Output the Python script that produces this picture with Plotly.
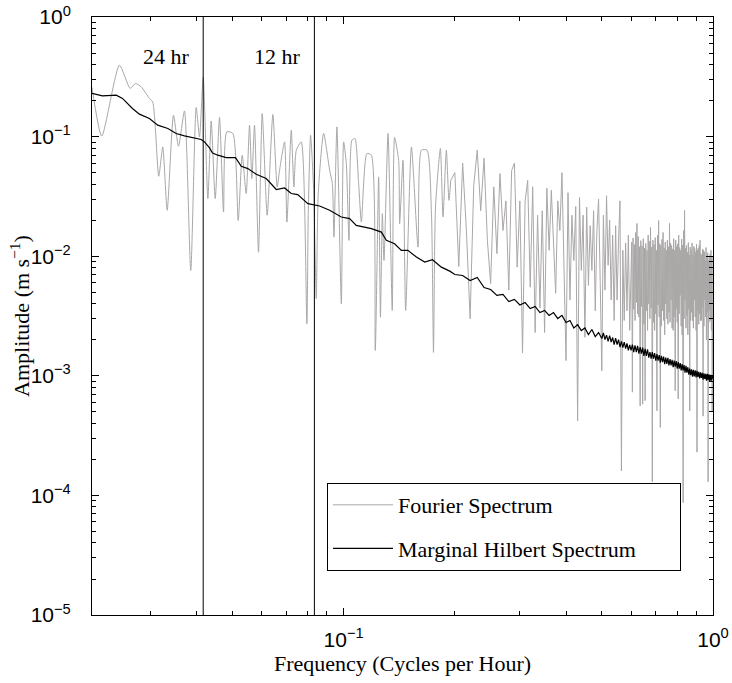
import math
import plotly.graph_objects as go

# ---------------- data ----------------
# Fourier spectrum, low-frequency part (individual lobes)
fourier_freq_low = [
    0.02083, 0.02214, 0.02472, 0.02643, 0.02731, 0.0283, 0.0298, 0.03042, 0.03158, 0.03238,
    0.03329, 0.03462, 0.03572, 0.03708, 0.03856, 0.03988, 0.04072, 0.04167, 0.0429, 0.0438,
    0.04491, 0.04613, 0.0473, 0.04827, 0.05014, 0.05182, 0.05314, 0.05448, 0.05562, 0.05643,
    0.05738, 0.05882, 0.0602, 0.06209, 0.06433, 0.06609, 0.06707, 0.0692, 0.0702, 0.07215,
    0.07335, 0.07445, 0.07679, 0.07952, 0.08021, 0.08138, 0.08292, 0.08432, 0.08537, 0.08828,
    0.09165, 0.09321, 0.09414, 0.0959, 0.09858, 0.1, 0.1017, 0.1034, 0.1053, 0.1073,
    0.1098, 0.1117, 0.1156, 0.1189, 0.1218, 0.1244, 0.1258, 0.1273, 0.1286, 0.1319,
    0.1354, 0.1374, 0.1409, 0.1418, 0.1448, 0.1472, 0.1526, 0.159, 0.1624, 0.1682,
    0.1729, 0.1751, 0.1773, 0.1828, 0.1858, 0.1897, 0.1928,
]
fourier_amp_low = [
    0.258, 0.101, 0.396, 0.253, 0.278, 0.261, 0.2085, 0.195, 0.0466, 0.082,
    0.0242, 0.151, 0.0831, 0.164, 0.0076, 0.175, 0.0994, 0.313, 0.0303, 0.135,
    0.0303, 0.1445, 0.0234, 0.1095, 0.1062, 0.0199, 0.0699, 0.0334, 0.1246, 0.0446,
    0.1246, 0.0108, 0.156, 0.022, 0.153, 0.0379, 0.0523, 0.0903, 0.0193, 0.113,
    0.0379, 0.0769, 0.0903, 0.00272, 0.0228, 0.1027, 0.0367, 0.00443, 0.0336, 0.1062,
    0.0523, 0.0405, 0.01445, 0.1206, 0.0040, 0.0903, 0.0595, 0.01356, 0.0933, 0.0964,
    0.0405, 0.0193, 0.0722, 0.0699, 0.00163, 0.046, 0.00309, 0.0227, 0.00922, 0.1062,
    0.00352, 0.0983, 0.0634, 0.0187, 0.0634, 0.00352, 0.082, 0.0119, 0.0769, 0.0769,
    0.0227, 0.00157, 0.0258, 0.0795, 0.0213, 0.0769, 0.0293,
]

# Fourier spectrum, middle part
fourier_freq_mid = [
    0.195, 0.200, 0.205, 0.210, 0.215, 0.220, 0.225, 0.230, 0.235, 0.240,
    0.245, 0.250, 0.255, 0.260, 0.265, 0.270, 0.275, 0.280, 0.285, 0.290,
    0.295, 0.300, 0.305, 0.310, 0.315, 0.320, 0.325, 0.330, 0.335, 0.340,
    0.345, 0.350, 0.355, 0.360, 0.365, 0.370, 0.375, 0.380, 0.385, 0.390,
    0.395, 0.400, 0.405, 0.410, 0.415, 0.420, 0.425, 0.430, 0.435, 0.440,
    0.445, 0.450, 0.455, 0.460, 0.465, 0.470, 0.475, 0.480, 0.485, 0.490,
    0.495, 0.500, 0.505, 0.510, 0.515, 0.520, 0.525, 0.530, 0.535, 0.540,
    0.545, 0.550, 0.555, 0.560, 0.565, 0.570, 0.575, 0.580, 0.585, 0.590,
    0.595, 0.600,
]
fourier_amp_mid = [
    0.043, 0.050, 0.0082, 0.060, 0.0164, 0.0030, 0.039, 0.077, 0.024, 0.066,
    0.0136, 0.0059, 0.038, 0.0105, 0.049, 0.0164, 0.029, 0.0052, 0.052, 0.060,
    0.0081, 0.029, 0.00155, 0.029, 0.043, 0.0055, 0.038, 0.0023, 0.022, 0.0037,
    0.024, 0.0023, 0.037, 0.0112, 0.0356, 0.0136, 0.0049, 0.029, 0.0164, 0.050,
    0.0071, 0.00134, 0.034, 0.0043, 0.022, 0.0092, 0.026, 0.00042, 0.031, 0.0076,
    0.022, 0.0021, 0.0257, 0.0057, 0.018, 0.0076, 0.024, 0.0035, 0.0164, 0.030,
    0.0063, 0.0011, 0.022, 0.0052, 0.032, 0.0084, 0.020, 0.0043, 0.015, 0.0029,
    0.018, 0.0043, 0.0136, 0.029, 0.00016, 0.0112, 0.0029, 0.0129, 0.0035, 0.015,
    0.0024, 0.0123,
]

# Fourier spectrum, dense high-frequency band
fourier_freq_high = [
    0.6025, 0.6050, 0.6075, 0.6100, 0.6125, 0.6150, 0.6175, 0.6200, 0.6225, 0.6250,
    0.6275, 0.6300, 0.6325, 0.6350, 0.6375, 0.6400, 0.6425, 0.6450, 0.6475, 0.6500,
    0.6525, 0.6550, 0.6575, 0.6600, 0.6625, 0.6650, 0.6675, 0.6700, 0.6725, 0.6750,
    0.6775, 0.6800, 0.6825, 0.6850, 0.6875, 0.6900, 0.6925, 0.6950, 0.6975, 0.7000,
    0.7025, 0.7050, 0.7075, 0.7100, 0.7125, 0.7150, 0.7175, 0.7200, 0.7225, 0.7250,
    0.7275, 0.7300, 0.7325, 0.7350, 0.7375, 0.7400, 0.7425, 0.7450, 0.7475, 0.7500,
    0.7525, 0.7550, 0.7575, 0.7600, 0.7625, 0.7650, 0.7675, 0.7700, 0.7725, 0.7750,
    0.7775, 0.7800, 0.7825, 0.7850, 0.7875, 0.7900, 0.7925, 0.7950, 0.7975, 0.8000,
    0.8025, 0.8050, 0.8075, 0.8100, 0.8125, 0.8150, 0.8175, 0.8200, 0.8225, 0.8250,
    0.8275, 0.8300, 0.8325, 0.8350, 0.8375, 0.8400, 0.8425, 0.8450, 0.8475, 0.8500,
    0.8525, 0.8550, 0.8575, 0.8600, 0.8625, 0.8650, 0.8675, 0.8700, 0.8725, 0.8750,
    0.8775, 0.8800, 0.8825, 0.8850, 0.8875, 0.8900, 0.8925, 0.8950, 0.8975, 0.9000,
    0.9025, 0.9050, 0.9075, 0.9100, 0.9125, 0.9150, 0.9175, 0.9200, 0.9225, 0.9250,
    0.9275, 0.9300, 0.9325, 0.9350, 0.9375, 0.9400, 0.9425, 0.9450, 0.9475, 0.9500,
    0.9525, 0.9550, 0.9575, 0.9600, 0.9625, 0.9650, 0.9675, 0.9700, 0.9725, 0.9750,
    0.9775, 0.9800, 0.9825, 0.9850, 0.9875, 0.9900, 0.9925, 0.9950, 0.9975, 1.0000,
]
fourier_amp_high = [
    0.0131, 0.00073, 0.0142, 0.0036, 0.0125, 0.0029, 0.0158, 0.0041, 0.0188, 0.0033,
    0.0146, 0.0031, 0.0120, 0.00056, 0.0135, 0.0038, 0.0122, 0.00058, 0.0140, 0.0027,
    0.0117, 0.00062, 0.0128, 0.0035, 0.0112, 0.0024, 0.0150, 0.0040, 0.0133, 0.0030,
    0.0174, 0.0037, 0.0119, 0.00013, 0.0136, 0.0028, 0.0125, 0.0024, 0.0143, 0.0033,
    0.0112, 0.00051, 0.0150, 0.0039, 0.0199, 0.0031, 0.0127, 0.00037, 0.0123, 0.0026,
    0.0138, 0.0035, 0.0158, 0.0029, 0.0117, 0.0022, 0.0131, 0.0040, 0.0112, 0.0030,
    0.0136, 0.0027, 0.0120, 0.0034, 0.0188, 0.0028, 0.0129, 0.0043, 0.0123, 0.0025,
    0.0115, 0.0024, 0.0140, 0.0031, 0.0112, 0.00075, 0.0136, 0.0036, 0.0121, 0.0028,
    0.0127, 0.00064, 0.0150, 0.0033, 0.0118, 0.0047, 0.0112, 0.0026, 0.0139, 0.0022,
    0.0124, 0.000087, 0.0164, 0.0030, 0.0242, 0.0043, 0.0116, 0.0025, 0.0123, 0.0032,
    0.0108, 0.0022, 0.0130, 0.0036, 0.0102, 0.00051, 0.0119, 0.0029, 0.0112, 0.0034,
    0.0129, 0.0029, 0.0102, 0.0025, 0.0121, 0.0043, 0.0116, 0.0031, 0.0108, 0.0024,
    0.0126, 0.00023, 0.0112, 0.0035, 0.0117, 0.0027, 0.0123, 0.0033, 0.0136, 0.0029,
    0.0105, 0.0029, 0.0102, 0.0037, 0.0115, 0.00046, 0.0112, 0.0026, 0.0109, 0.0043,
    0.0092, 0.0031, 0.0118, 0.0020, 0.0102, 0.0034, 0.0107, 0.00013, 0.0092, 0.0028,
    0.0098, 0.0035, 0.0104, 0.0029, 0.0112, 0.0024, 0.0100, 0.00051, 0.0030, 0.0097,
]

# Marginal Hilbert spectrum
hilbert_freq_low = [
    0.02083, 0.02223, 0.02423, 0.02519, 0.02681, 0.0280, 0.0298, 0.03139, 0.03343, 0.0352,
    0.03708, 0.03988, 0.04116, 0.04201, 0.04334, 0.04416, 0.04565, 0.04809, 0.05097, 0.05282,
    0.05505, 0.058, 0.06172, 0.06571, 0.0692, 0.07215, 0.07511, 0.08004, 0.0861, 0.09165,
    0.09858, 0.1038, 0.1082, 0.1189, 0.1265, 0.1305, 0.1374, 0.1433, 0.1492, 0.1574,
    0.1658, 0.174, 0.1839, 0.1938,
]
hilbert_amp_low = [
    0.2296, 0.2193, 0.2222, 0.2085, 0.1719, 0.154, 0.1418, 0.1246, 0.1169, 0.1062,
    0.1014, 0.0964, 0.0946, 0.0903, 0.0804, 0.073, 0.0699, 0.0668, 0.0668, 0.0565,
    0.054, 0.0484, 0.0446, 0.0361, 0.0372, 0.0334, 0.0327, 0.0275, 0.0263, 0.0242,
    0.02126, 0.0206, 0.0181, 0.017, 0.0159, 0.01356, 0.01272, 0.0112, 0.0112, 0.00983,
    0.00893, 0.00935, 0.0081, 0.0075,
]
hilbert_freq_mid = [
    0.20, 0.21, 0.22, 0.23, 0.24, 0.25, 0.26, 0.27, 0.28, 0.29,
    0.30, 0.31, 0.32, 0.33, 0.34, 0.35, 0.36, 0.37, 0.38, 0.39,
    0.40, 0.41, 0.42, 0.43, 0.44, 0.45, 0.46, 0.47, 0.48, 0.49,
    0.50,
]
hilbert_amp_mid = [
    0.00703, 0.0069, 0.00627, 0.00664, 0.00547, 0.00527, 0.0047, 0.00479, 0.00418, 0.00435,
    0.00391, 0.0041, 0.00365, 0.0038, 0.00338, 0.00352, 0.0032, 0.00338, 0.00301, 0.0032,
    0.00279, 0.0029, 0.00251, 0.00268, 0.00239, 0.00251, 0.00221, 0.00244, 0.00213, 0.0023,
    0.00205,
]
hilbert_freq_high = [
    0.505, 0.510, 0.515, 0.520, 0.525, 0.530, 0.535, 0.540, 0.545, 0.550,
    0.555, 0.560, 0.565, 0.570, 0.575, 0.580, 0.585, 0.590, 0.595, 0.600,
    0.605, 0.610, 0.615, 0.620, 0.625, 0.630, 0.635, 0.640, 0.645, 0.650,
    0.655, 0.660, 0.665, 0.670, 0.675, 0.680, 0.685, 0.690, 0.695, 0.700,
    0.705, 0.710, 0.715, 0.720, 0.725, 0.730, 0.735, 0.740, 0.745, 0.750,
    0.755, 0.760, 0.765, 0.770, 0.775, 0.780, 0.785, 0.790, 0.795, 0.800,
    0.805, 0.810, 0.815, 0.820, 0.825, 0.830, 0.835, 0.840, 0.845, 0.850,
    0.855, 0.860, 0.865, 0.870, 0.875, 0.880, 0.885, 0.890, 0.895, 0.900,
    0.905, 0.910, 0.915, 0.920, 0.925, 0.930, 0.935, 0.940, 0.945, 0.950,
    0.955, 0.960, 0.965, 0.970, 0.975, 0.980, 0.985, 0.990, 0.995, 1.000,
]
hilbert_amp_high = [
    0.00228, 0.00201, 0.00219, 0.00194, 0.00217, 0.00191, 0.00209, 0.00182, 0.00207, 0.00182,
    0.00201, 0.00174, 0.00194, 0.00172, 0.00191, 0.00169, 0.00187, 0.00163, 0.00181, 0.00163,
    0.00182, 0.00158, 0.0018, 0.00158, 0.00178, 0.00153, 0.00174, 0.00153, 0.00172, 0.00147,
    0.00168, 0.00147, 0.00166, 0.00142, 0.00158, 0.00139, 0.00158, 0.00139, 0.00155, 0.00134,
    0.00152, 0.00134, 0.00149, 0.00129, 0.00147, 0.0013, 0.00145, 0.00125, 0.00142, 0.00126,
    0.00141, 0.00122, 0.00138, 0.00122, 0.00136, 0.00118, 0.00134, 0.00119, 0.00133, 0.00115,
    0.0013, 0.00115, 0.00128, 0.00111, 0.00125, 0.00111, 0.00123, 0.00106, 0.00121, 0.00106,
    0.00118, 0.00102, 0.00115, 0.00101, 0.00113, 0.000985, 0.00112, 0.00099, 0.00111, 0.00097,
    0.0011, 0.00098, 0.00108, 0.00095, 0.00107, 0.00096, 0.00106, 0.00093, 0.00105, 0.00094,
    0.00104, 0.00091, 0.00104, 0.00092, 0.00103, 0.0009, 0.00102, 0.00091, 0.001, 0.00095,
]

# tidal periods marked on the chart (hours)
marker_periods = [24, 12]
marker_labels = ["24 hr", "12 hr"]

x_tick_vals = [0.1, 1.0]
x_tick_text = ["10<sup>\u22121</sup>", "10<sup>0</sup>"]
y_tick_vals = [1e-5, 1e-4, 1e-3, 1e-2, 1e-1, 1.0]
y_tick_text = ["10<sup>\u22125</sup>", "10<sup>\u22124</sup>", "10<sup>\u22123</sup>",
               "10<sup>\u22122</sup>", "10<sup>\u22121</sup>", "10<sup>0</sup>"]

x_min, x_max = 1 / 48, 1.0
y_min, y_max = 1e-5, 1.0

# ---------------- figure ----------------
hilbert_freq = hilbert_freq_low + hilbert_freq_mid + hilbert_freq_high
hilbert_amp = hilbert_amp_low + hilbert_amp_mid + hilbert_amp_high

gray = "#aaa7a7"
fig = go.Figure()
# smooth low-frequency lobes (joined to the first point of the next part)
fig.add_trace(go.Scatter(
    x=fourier_freq_low + fourier_freq_mid[:1], y=fourier_amp_low + fourier_amp_mid[:1],
    mode="lines", line=dict(color=gray, width=1, shape="spline", smoothing=0.6),
    legendgroup="a", showlegend=False,
))
fig.add_trace(go.Scatter(
    x=fourier_freq_mid + fourier_freq_high, y=fourier_amp_mid + fourier_amp_high,
    mode="lines", name="Fourier Spectrum",
    line=dict(color=gray, width=1), legendgroup="a",
))
fig.add_trace(go.Scatter(
    x=hilbert_freq, y=hilbert_amp, mode="lines",
    name="Marginal Hilbert Spectrum" + "\u00a0" * 7,
    line=dict(color="#000000", width=1.2), legendgroup="b",
))
for p in marker_periods:
    fig.add_trace(go.Scatter(
        x=[1 / p, 1 / p], y=[y_min, y_max], mode="lines", showlegend=False,
        line=dict(color="#000000", width=1), hoverinfo="skip",
    ))

serif = "Liberation Serif"
sans = "Liberation Sans"

for p, lab in zip(marker_periods, marker_labels):
    fig.add_annotation(
        x=math.log10(1 / p), y=0.934, xref="x", yref="paper", text=lab,
        showarrow=False, xanchor="right", yanchor="middle", xshift=-11,
        font=dict(family=serif, size=22, color="black"),
    )

# y-axis title placed as a rotated annotation
fig.add_annotation(
    x=-0.1160, y=0.5, xref="paper", yref="paper", text="Amplitude (m s<sup>\u22121</sup>)",
    showarrow=False, textangle=-90, xanchor="center", yanchor="middle",
    font=dict(family=serif, size=22, color="black"),
)

x_minor = [0.03, 0.04, 0.05, 0.06, 0.07, 0.08, 0.09,
           0.2, 0.3, 0.4, 0.5, 0.6, 0.7, 0.8, 0.9]
y_minor = [m * 10.0 ** k for k in range(-5, 0) for m in range(2, 10)]

fig.update_xaxes(
    type="log", range=[math.log10(x_min), math.log10(x_max)], automargin=False,
    showline=True, linecolor="black", linewidth=1, mirror="ticks",
    ticks="inside", ticklen=7, tickcolor="black",
    tickmode="array", tickvals=x_tick_vals, ticktext=x_tick_text,
    tickfont=dict(family=sans, size=21, color="black"), ticklabelstandoff=6,
    ticklabeloverflow="allow",
    minor=dict(tickmode="array", tickvals=x_minor, ticks="inside", ticklen=4,
               tickcolor="black", showgrid=False),
    showgrid=False, zeroline=False,
    title=dict(text="Frequency (Cycles per Hour)", font=dict(family=serif, size=22, color="black"),
               standoff=4),
)
fig.update_yaxes(
    type="log", range=[math.log10(y_min), math.log10(y_max)], automargin=False,
    showline=True, linecolor="black", linewidth=1, mirror="ticks",
    ticks="inside", ticklen=7, tickcolor="black",
    tickmode="array", tickvals=y_tick_vals, ticktext=y_tick_text,
    tickfont=dict(family=sans, size=21, color="black"), ticklabelstandoff=16,
    ticklabeloverflow="allow",
    minor=dict(tickmode="array", tickvals=y_minor, ticks="inside", ticklen=4,
               tickcolor="black", showgrid=False),
    showgrid=False, zeroline=False,
)

fig.update_layout(
    width=732, height=683,
    margin=dict(l=92, r=19, t=17, b=68),
    paper_bgcolor="white", plot_bgcolor="white",
    showlegend=True,
    legend=dict(
        x=0.3784, y=0.2207, xanchor="left", yanchor="top",
        bgcolor="white", bordercolor="black", borderwidth=1,
        font=dict(family=serif, size=22, color="black"),
        itemwidth=60, tracegroupgap=12, traceorder="grouped",
    ),
    hovermode=False,
)

# remove the browser's default page margin so the figure fills the window exactly
fig.write_html(
    "out.html",
    config={"displayModeBar": False},
    post_script="document.body.style.margin='0';",
)
